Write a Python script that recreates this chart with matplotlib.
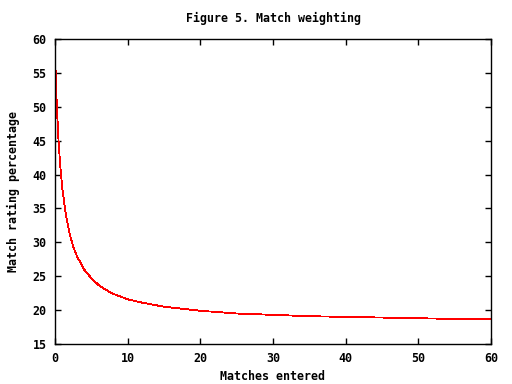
#!/usr/bin/env python3
# coding: utf-8

import matplotlib
matplotlib.use('Agg')
from matplotlib import pyplot as plt


TITLE = 'Figure 5. Match weighting'
XLABEL = 'Matches entered'
YLABEL = 'Match rating percentage'

# values
matches = [0, 0.25, 0.5, 0.75, 1, 1.5, 2, 2.5, 3, 4, 5, 6, 7, 8, 10, 12, 15,
           20, 25, 30, 35, 40, 45, 50, 55, 60]
rating = [58.0, 50.0, 44.7, 40.9, 38.0, 34.0, 31.3, 29.4, 28.0, 26.0, 24.7,
          23.7, 23.0, 22.4, 21.6, 21.1, 20.5, 19.9, 19.5, 19.3, 19.1, 19.0,
          18.9, 18.8, 18.7, 18.65]

xticks = [0, 10, 20, 30, 40, 50, 60]
yticks = [15, 20, 25, 30, 35, 40, 45, 50, 55, 60]

FONT = {'family': 'DejaVu Sans Mono', 'weight': 'bold', 'size': 8.4}


def main():
    fig = plt.figure(figsize=(5.12, 3.84), dpi=100)
    ax = fig.add_axes([55 / 512, 1 - 344 / 384, 436 / 512, 305 / 384])

    ax.plot(matches, rating, color='red', linewidth=0.6, antialiased=False)

    ax.set_xlim(0, 60)
    ax.set_ylim(15, 60)
    ax.set_xticks(xticks)
    ax.set_yticks(yticks)
    ax.set_xticklabels([str(t) for t in xticks], fontdict=FONT)
    ax.set_yticklabels([str(t) for t in yticks], fontdict=FONT)
    ax.tick_params(direction='in', length=4, width=1, top=True, right=True,
                   pad=6, colors='black')
    for spine in ax.spines.values():
        spine.set_linewidth(1)

    ax.set_xlabel(XLABEL, fontdict=FONT, labelpad=3)
    ax.set_ylabel(YLABEL, fontdict=FONT, labelpad=9)
    fig.text(273 / 512, 1 - 18 / 384, TITLE, ha='center', va='center', fontdict=FONT)

    fig.savefig('out.png', dpi=100)


if __name__ == '__main__':
    main()
